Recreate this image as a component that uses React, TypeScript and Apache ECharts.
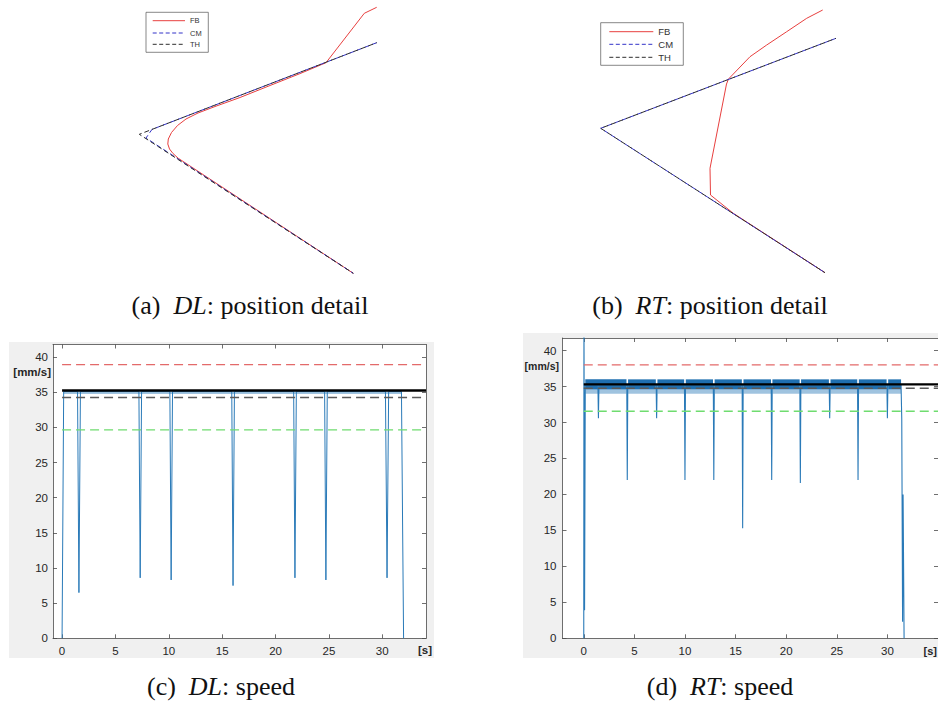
import React, { useEffect, useRef } from 'react';
import * as echarts from 'echarts';

// ---------- (a) DL: position detail (plot units, x right, y up) ----------
const dlFB: number[][] = [
  [246.7, 272.7], [234.3, 266.7], [196, 217.3], [170, 206.4], [140, 194.5], [110, 182.5],
  [85, 173.5], [68, 167], [56, 161], [47.5, 154.5], [41.5, 147.5], [38.3, 141], [37.8, 136],
  [39.5, 131], [43, 126.5], [48.3, 121.7], [223.3, 6.7],
];
const dlCM: number[][] = [[246.7, 237.3], [22, 150.6], [16, 142], [223.3, 6.7]];
const dlTH: number[][] = [[246.7, 237.3], [9.3, 145.7], [223.3, 6.7]];

// ---------- (b) RT: position detail ----------
const rtFB: number[][] = [
  [242.7, 270], [226.7, 261.7], [206.7, 248.3], [186.7, 235], [170, 223.3], [148.5, 201],
  [146.5, 196], [130, 111.7], [130.5, 85], [153.3, 66.7], [245, 7.3],
];
const rtCM: number[][] = [[256, 241.7], [20.7, 151.7], [245, 7.3]];
const rtTH: number[][] = [[256, 241.7], [20.7, 151.7], [245, 7.3]];

// ---------- (c) DL: speed [s, mm/s] ----------
const dlSpeed: number[][] = [
  [0.0, 0], [0.15, 35.1], [1.45, 35.1], [1.58, 6.5], [1.72, 35.1], [7.2, 35.1], [7.32, 8.6],
  [7.45, 35.1], [10.1, 35.1], [10.22, 8.3], [10.35, 35.1], [15.9, 35.1], [16.02, 7.5],
  [16.15, 35.1], [21.7, 35.1], [21.82, 8.6], [21.95, 35.1], [24.6, 35.1], [24.72, 8.3],
  [24.85, 35.1], [30.3, 35.1], [30.45, 8.6], [30.6, 35.1], [31.8, 35.1], [32.0, 0],
];
const dlBand: number[][] = [[0.15, 31.8, 34.75, 35.3]];
// upper (red), reference (black), mean (grey), lower (green)
const dlRefLevels = [38.95, 35.25, 34.25, 29.65];

// ---------- (d) RT: speed ----------
const rtSpeed: number[][] = [
  [0.0, 0], [0.02, 46], [0.08, 3.9], [0.15, 35.2],
  [1.4, 35.2], [1.45, 30.6], [1.5, 35.2],
  [4.25, 35.2], [4.3, 22.0], [4.35, 35.2],
  [7.15, 35.2], [7.2, 30.6], [7.25, 35.2],
  [9.95, 35.2], [10.0, 22.0], [10.05, 35.2],
  [12.8, 35.2], [12.85, 22.0], [12.9, 35.2],
  [15.65, 35.2], [15.7, 15.3], [15.75, 35.2],
  [18.52, 35.2], [18.57, 22.0], [18.62, 35.2],
  [21.35, 35.2], [21.4, 21.6], [21.45, 35.2],
  [24.25, 35.2], [24.3, 30.6], [24.35, 35.2],
  [27.05, 35.2], [27.1, 22.0], [27.15, 35.2],
  [29.95, 35.2], [30.0, 30.6], [30.05, 35.2],
  [31.35, 35.2], [31.42, 30.5], [31.5, 2.3], [31.55, 20], [31.65, 0],
];
const rtBand: number[][] = [
  [0.15, 4.22], [4.38, 7.12], [7.28, 9.92], [10.08, 12.77], [12.93, 15.62], [15.78, 18.5],
  [18.64, 21.33], [21.47, 24.22], [24.38, 27.02], [27.18, 29.92], [30.08, 31.35],
];
const rtBandLevels = [34.0, 34.6, 36.0];
const rtRefLevels = [38.0, 35.3, 34.77, 31.57];

const speedXTicks = [0, 5, 10, 15, 20, 25, 30];
const speedYTicks = [0, 5, 10, 15, 20, 25, 30, 35, 40];

const SANS = 'Liberation Sans';
const SERIF = 'Liberation Serif';
const BLUE = '#2a7ab8';
const BOX = '#4a4a4a';

function boxAxis(
  kind: 'x' | 'y', grid: number, pos: string, min: number, max: number, ticks: number[], labels: boolean,
  margin: number
): any {
  return {
    type: 'value', gridIndex: grid, position: pos, min, max,
    axisLine: { show: true, onZero: false, lineStyle: { color: BOX, width: 0.8 } },
    axisTick: { show: true, inside: true, length: 4, customValues: ticks, lineStyle: { color: BOX, width: 0.8 } },
    axisLabel: {
      show: labels, customValues: ticks, margin, color: '#262626', fontFamily: SANS, fontSize: 11.5,
    },
    splitLine: { show: false },
  };
}

function refSeries(levels: number[], x0: number, x1: number, xi: number, yi: number): any[] {
  const styles = [
    { color: '#e36a6a', width: 1.3, type: [9, 5] },
    { color: '#000000', width: 2.4, type: 'solid' },
    { color: '#5a5a5a', width: 1.4, type: [9, 5] },
    { color: '#6fdc6f', width: 1.4, type: [9, 5] },
  ];
  return levels.map((v, i) => ({
    type: 'line', xAxisIndex: xi, yAxisIndex: yi, symbol: 'none', silent: true,
    z: i === 1 ? 6 : 5,
    data: [[x0, v], [x1, v]],
    lineStyle: styles[i],
  }));
}

function posSeries(fb: number[][], cm: number[][], th: number[][], idx: number): any[] {
  return [
    { name: 'FB', type: 'line', xAxisIndex: idx, yAxisIndex: idx, symbol: 'none', data: fb,
      lineStyle: { color: '#e8403f', width: 1 } },
    { name: 'CM', type: 'line', xAxisIndex: idx, yAxisIndex: idx, symbol: 'none', data: cm,
      lineStyle: { color: '#3232c8', width: 1, type: [5, 3] } },
    { name: 'TH', type: 'line', xAxisIndex: idx, yAxisIndex: idx, symbol: 'none', data: th,
      lineStyle: { color: '#2e2e2e', width: 1, type: [5, 3], dashOffset: 4 } },
  ];
}

function legendBox(x: number, y: number, w: number, h: number, lx1: number, lx2: number, tx: number,
  rows: number[], fs: number): any[] {
  const names = ['FB', 'CM', 'TH'];
  const cols = ['#e8403f', '#3232c8', '#2e2e2e'];
  const els: any[] = [
    { type: 'rect', shape: { x, y, width: w, height: h }, style: { fill: '#fff', stroke: '#555', lineWidth: 0.7 }, z: 10 },
  ];
  rows.forEach((ry, i) => {
    els.push({
      type: 'line', shape: { x1: lx1, y1: ry, x2: lx2, y2: ry }, z: 11,
      style: { stroke: cols[i], lineWidth: 1, lineDash: i === 0 ? null : [4, 2.5] },
    });
    els.push({
      type: 'text', x: tx, y: ry, z: 11,
      style: { text: names[i], fontFamily: SANS, fontSize: fs, fill: '#333', textVerticalAlign: 'middle' },
    });
  });
  return els;
}

function caption(cx: number, cy: number, tag: string, it: string, rest: string): any {
  return {
    type: 'text', x: cx, y: cy,
    style: {
      text: `${tag}  {i|${it}}${rest}`,
      fontFamily: SERIF, fontSize: 26, fill: '#111',
      textAlign: 'center', textVerticalAlign: 'middle',
      rich: { i: { fontFamily: SERIF, fontSize: 26, fontStyle: 'italic', fill: '#111' } },
    },
  };
}

export default function App() {
  const ref = useRef<HTMLDivElement>(null);
  useEffect(() => {
    if (!ref.current) return;
    const chart = echarts.init(ref.current, undefined, { renderer: 'svg' });

    const hidden = (grid: number, min: number, max: number) => ({
      type: 'value', gridIndex: grid, min, max, show: false, splitLine: { show: false },
    });

    const option: any = {
      animation: false,
      backgroundColor: '#ffffff',
      grid: [
        { left: 130, top: 0, width: 260, height: 280 },
        { left: 580, top: 0, width: 260, height: 280 },
        { left: 53, top: 344.5, width: 373, height: 293.8, show: true, backgroundColor: '#fff', borderWidth: 0 },
        { left: 562.5, top: 338, width: 393.6, height: 300.3, show: true, backgroundColor: '#fff', borderWidth: 0 },
      ],
      xAxis: [
        hidden(0, 0, 260),
        hidden(1, 0, 260),
        boxAxis('x', 2, 'bottom', -0.85, 34.1, speedXTicks, true, 7),
        boxAxis('x', 2, 'top', -0.85, 34.1, speedXTicks, false, 7),
        boxAxis('x', 3, 'bottom', -2.1, 35, speedXTicks, true, 7),
        boxAxis('x', 3, 'top', -2.1, 35, speedXTicks, false, 7),
      ],
      yAxis: [
        hidden(0, 0, 280),
        hidden(1, 0, 280),
        boxAxis('y', 2, 'left', 0, 41.8, speedYTicks, true, 5),
        boxAxis('y', 2, 'right', 0, 41.8, speedYTicks, false, 5),
        boxAxis('y', 3, 'left', 0, 41.75, speedYTicks, true, 6),
        boxAxis('y', 3, 'right', 0, 41.75, speedYTicks, false, 6),
      ],
      graphic: [
        { type: 'rect', shape: { x: 9, y: 342, width: 425, height: 316 }, style: { fill: '#f0f0f0' }, z: -10 },
        { type: 'rect', shape: { x: 523, y: 333, width: 420, height: 325 }, style: { fill: '#f0f0f0' }, z: -10 },
        ...legendBox(146, 12.3, 62.3, 40, 152.7, 185, 190, [20.7, 33, 44.3], 7.5),
        ...legendBox(600.7, 22.7, 82.6, 42.6, 609.3, 653.3, 658.3, [31.7, 44.3, 57.3], 9.5),
        { type: 'text', x: 51, y: 372, style: { text: '[mm/s]', fontFamily: SANS, fontWeight: 'bold', fontSize: 11.5, fill: '#262626', textAlign: 'right', textVerticalAlign: 'middle' } },
        { type: 'text', x: 425, y: 650, style: { text: '[s]', fontFamily: SANS, fontWeight: 'bold', fontSize: 11.5, fill: '#262626', textAlign: 'center', textVerticalAlign: 'middle' } },
        { type: 'text', x: 559, y: 366, style: { text: '[mm/s]', fontFamily: SANS, fontWeight: 'bold', fontSize: 10.5, fill: '#262626', textAlign: 'right', textVerticalAlign: 'middle' } },
        { type: 'text', x: 937, y: 651, style: { text: '[s]', fontFamily: SANS, fontWeight: 'bold', fontSize: 11, fill: '#262626', textAlign: 'right', textVerticalAlign: 'middle' } },
        caption(250, 305, '(a)', 'DL', ': position detail'),
        caption(710, 305, '(b)', 'RT', ': position detail'),
        caption(221, 686, '(c)', 'DL', ': speed'),
        caption(720, 686, '(d)', 'RT', ': speed'),
      ],
      series: [
        ...posSeries(dlFB, dlCM, dlTH, 0),
        ...posSeries(rtFB, rtCM, rtTH, 1),
        {
          type: 'line', xAxisIndex: 2, yAxisIndex: 2, symbol: 'none', data: dlSpeed, z: 4,
          lineStyle: { color: BLUE, width: 1 },
          markArea: {
            silent: true, itemStyle: { color: 'rgba(42,122,184,0.45)' },
            data: dlBand.map((b) => [{ coord: [b[0], b[2]] }, { coord: [b[1], b[3]] }]),
          },
        },
        ...refSeries(dlRefLevels, 0, 34.1, 2, 2),
        {
          type: 'line', xAxisIndex: 4, yAxisIndex: 4, symbol: 'none', data: rtSpeed, z: 4,
          lineStyle: { color: BLUE, width: 1.1 },
          markArea: {
            silent: true,
            data: [
              ...rtBand.map((b) => [
                { coord: [b[0], rtBandLevels[1]], itemStyle: { color: '#1f6fb0' } },
                { coord: [b[1], rtBandLevels[2]] },
              ]),
              ...rtBand.map((b) => [
                { coord: [b[0], rtBandLevels[0]], itemStyle: { color: 'rgba(42,122,184,0.45)' } },
                { coord: [b[1], rtBandLevels[1]] },
              ]),
            ],
          },
        },
        ...refSeries(rtRefLevels, 0, 35, 4, 4),
      ],
    };
    chart.setOption(option);
    return () => chart.dispose();
  }, []);
  return <div ref={ref} style={{ position: 'absolute', left: 0, top: 0, width: 938, height: 706 }} />;
}
